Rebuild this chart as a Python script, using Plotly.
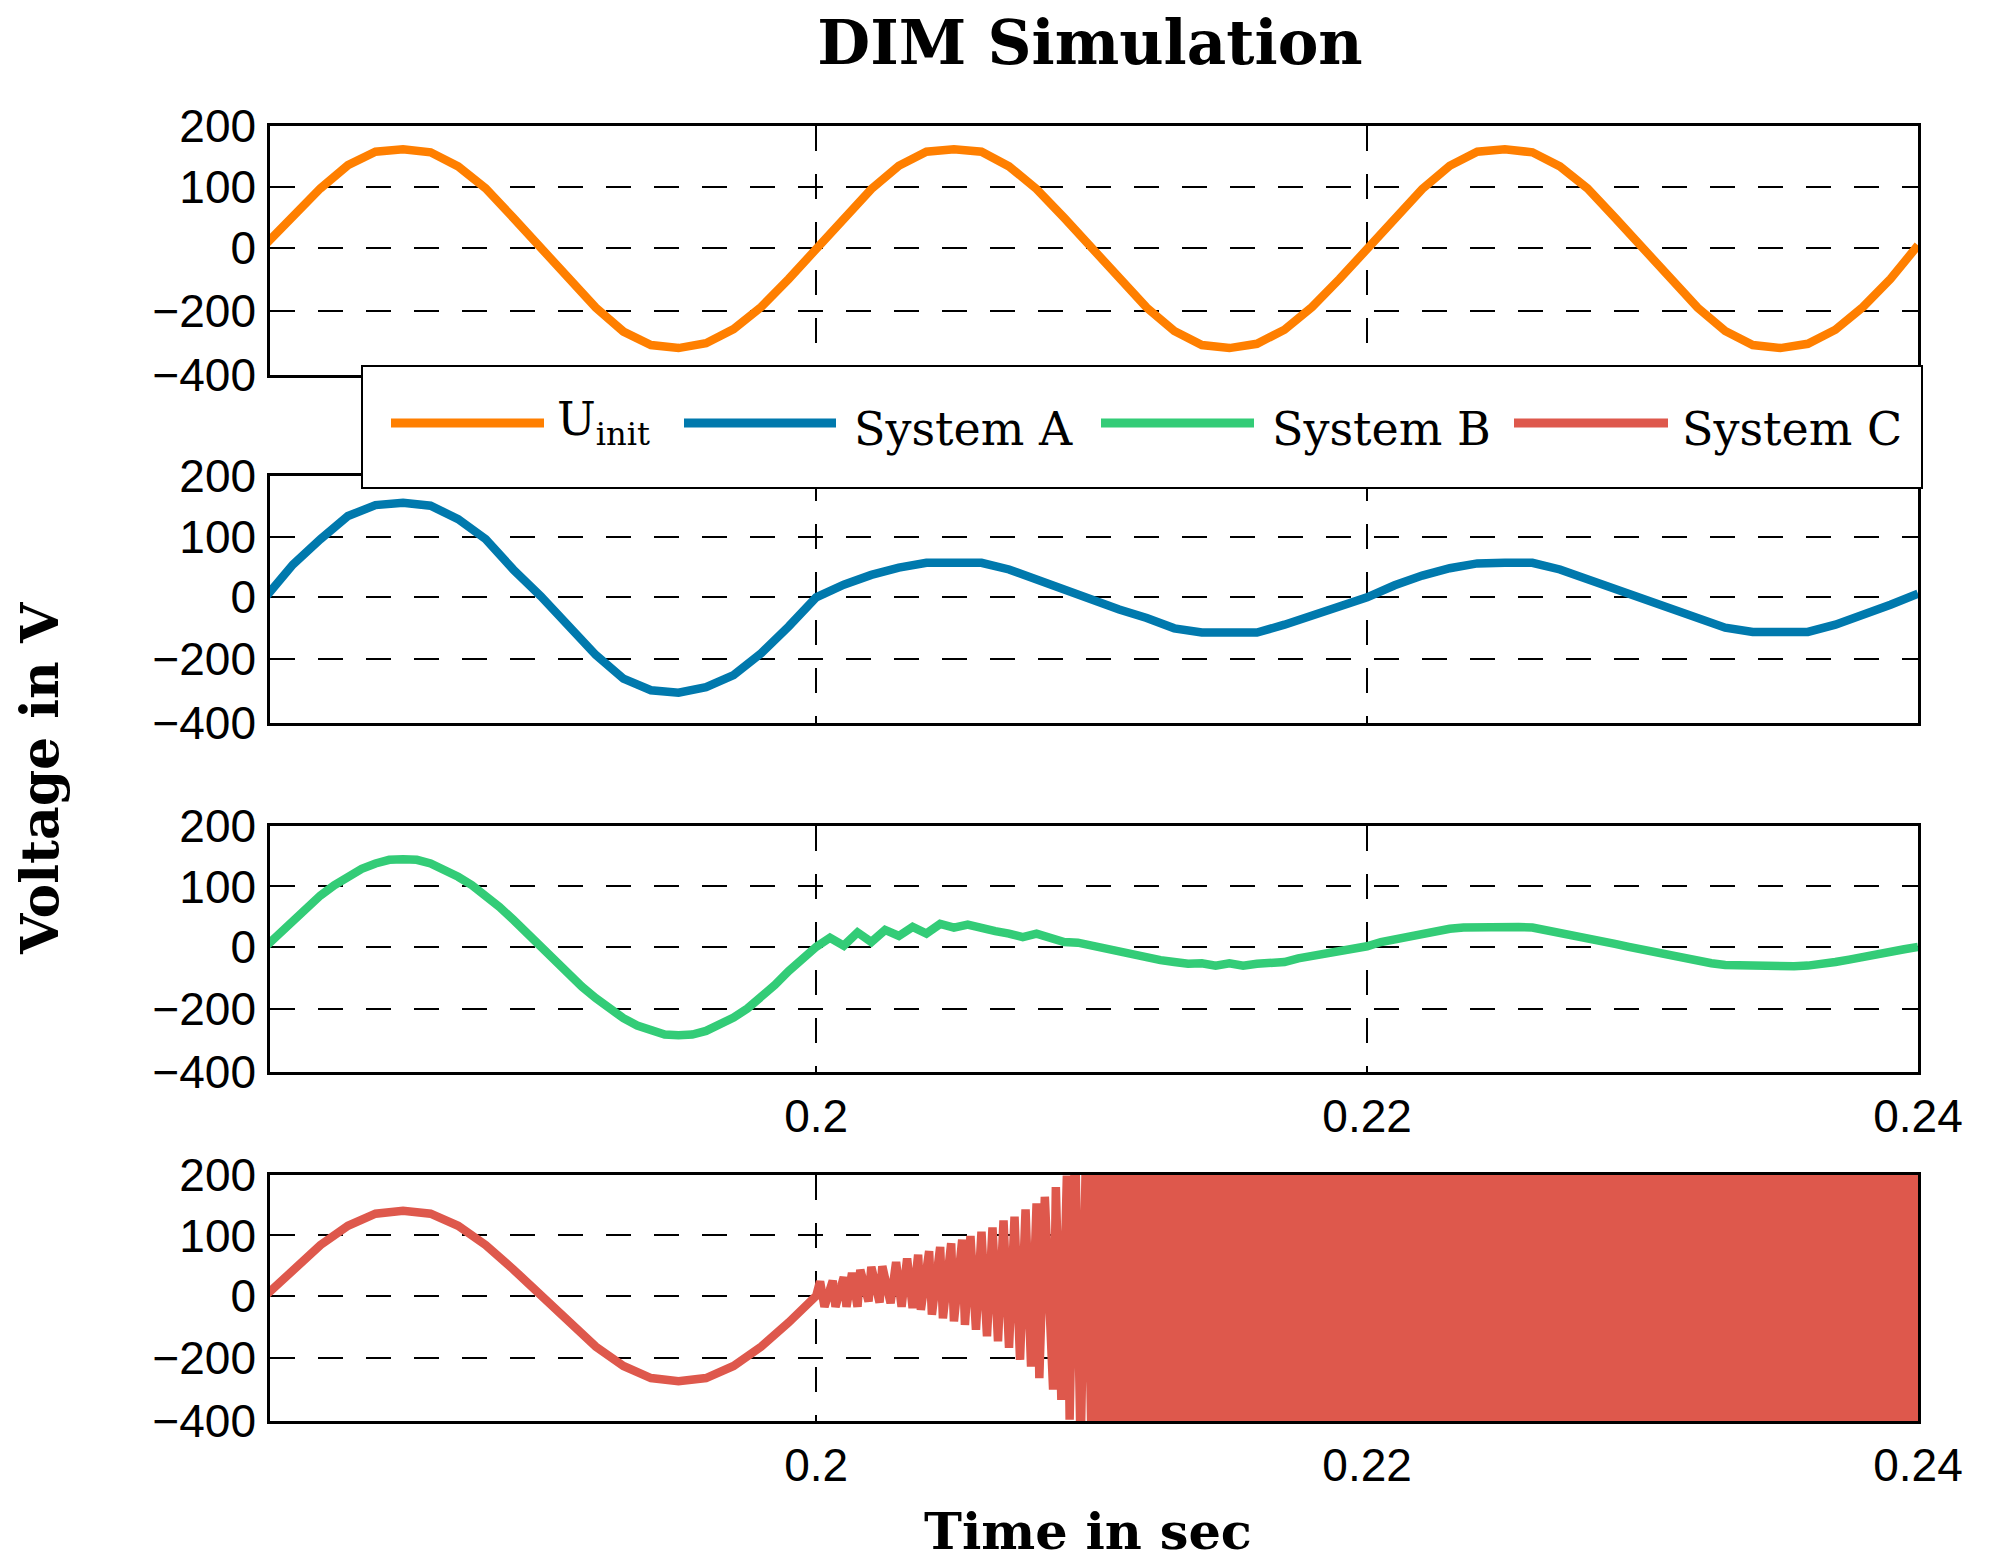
import plotly.graph_objects as go

# ---------------- data ----------------
# 1 ms sampling grid 0.180 ... 0.240 s
t_1ms = [round(0.180 + 0.001 * i, 4) for i in range(61)]
# 0.5 ms sampling grid 0.180 ... 0.240 s
t_05ms = [round(0.180 + 0.0005 * i, 5) for i in range(121)]

u_init = [6, 52, 98, 136, 158, 162, 157, 134, 98, 50, 2, -48, -97, -136, -158, -163, -155, -132, -96, -50,
          0, 51, 97, 135, 158, 162, 158, 134, 97, 50, 1, -49, -97, -135, -158, -163, -156, -133, -96, -50,
          0, 51, 97, 135, 158, 162, 157, 134, 98, 50, 1, -49, -97, -135, -158, -163, -156, -133, -96, -50,
          5]

system_a = [0, 54, 96, 134, 152, 156, 151, 129, 96, 46, 2, -48, -95, -134, -153, -157, -148, -128, -92, -48,
            0, 21, 37, 49, 57, 57, 57, 46, 29, 13, -4, -20, -34, -51, -58, -58, -58, -45, -31, -16,
            0, 20, 36, 48, 56, 57, 57, 46, 30, 14, -3, -20, -35, -50, -57, -58, -57, -45, -30, -12,
            6]

system_b = [0, 22, 45, 66, 85, 102, 117, 129, 138, 144, 145, 144, 138, 128, 116, 102, 85, 66, 45, 22,
            0, -22, -45, -66, -85, -103, -118, -130, -139, -145, -146, -145, -139, -129, -117, -102, -84, -63, -40, -20,
            0, 15, 2, 24, 8, 28, 18, 33, 22, 38, 32, 37, 30, 26, 22, 16, 22, 14, 8, 7,
            2, -4, -10, -15, -18, -22, -25, -28, -27, -31, -27, -31, -28, -26, -25, -19, -15, -11, -7, -4,
            1, 8, 13, 18, 23, 27, 30, 32, 33, 33, 33, 33, 32, 28, 24, 19, 14, 10, 5, 0,
            -5, -10, -15, -20, -24, -27, -30, -31, -32, -32, -32, -32, -31, -29, -25, -21, -16, -12, -8, -4,
            0]

# System C: smooth first cycle (1 ms grid) ...
c_t_smooth = t_1ms[:21]
c_v_smooth = [0, 44, 84, 116, 136, 141, 136, 116, 84, 44, 0, -44, -84, -116, -136, -141, -136, -116, -84, -44, 0]
# ... then growing oscillation: successive peak / trough samples
c_t_osc = [0.20014, 0.2003, 0.2006, 0.2007, 0.2010, 0.2011, 0.2013, 0.2015, 0.2016, 0.2019,
           0.2020, 0.2023, 0.2024, 0.2027, 0.2029, 0.2031, 0.2033, 0.2035, 0.2037, 0.2038,
           0.2041, 0.2042, 0.2045, 0.2046, 0.2049, 0.2050, 0.2053, 0.2054, 0.2056, 0.2058,
           0.2060, 0.2062, 0.2064, 0.2066, 0.2068, 0.2070, 0.2072, 0.2074, 0.2076, 0.2078,
           0.2080, 0.2081, 0.2083, 0.2086, 0.2087, 0.2089, 0.2091, 0.2092, 0.2094, 0.2096,
           0.2098, 0.2100]
c_v_osc = [24, -18, 25, -18, 31, -18, 38, -18, 43, -9,
           48, -11, 49, -12, 56, -18, 62, -20, 68, -23,
           74, -31, 81, -37, 87, -42, 93, -48, 99, -56,
           106, -67, 113, -75, 125, -86, 131, -106, 143, -117,
           153, -136, 164, -155, 180, -172, 199, -205, 260, -260,
           260, -260]
# ... and saturated region beyond the axis limits (envelope)
c_sat_t = [0.2099, 0.2400]
c_sat_hi = [240, 240]
c_sat_lo = [-240, -240]

# axis ticks
x_tickvals = [0.2, 0.22, 0.24]
x_ticktext = ["0.2", "0.22", "0.24"]
y_tickvals = [-207, -102, 0, 100, 200]
y_ticktext = ["\u2212400", "\u2212200", "0", "100", "200"]

series_names = ["U<sub>init</sub>", "System A", "System B", "System C"]

# ---------------- style ----------------
COL_U = "#FF7F00"
COL_A = "#0079AD"
COL_B = "#33CC77"
COL_C = "#DE584C"
colors = [COL_U, COL_A, COL_B, COL_C]
LW = 8.5

W, H = 1992, 1566
ML, MR, MT, MB = 270, 74, 126, 145
PW, PH = W - ML - MR, H - MT - MB


def px_to_paper_x(px):
    return (px - ML) / PW


def px_to_paper_y(py):
    return 1 - (py - MT) / PH


panels_px = [(126, 375), (476, 723), (826, 1072), (1175, 1421)]
domains = [[px_to_paper_y(b), px_to_paper_y(t)] for t, b in panels_px]

fig = go.Figure()

fig.add_trace(go.Scatter(x=t_1ms, y=u_init, mode="lines", name=series_names[0],
                         line=dict(color=COL_U, width=LW), xaxis="x", yaxis="y"))
fig.add_trace(go.Scatter(x=t_1ms, y=system_a, mode="lines", name=series_names[1],
                         line=dict(color=COL_A, width=LW), xaxis="x2", yaxis="y2"))
fig.add_trace(go.Scatter(x=t_05ms, y=system_b, mode="lines", name=series_names[2],
                         line=dict(color=COL_B, width=LW), xaxis="x3", yaxis="y3"))
fig.add_trace(go.Scatter(x=c_t_smooth + c_t_osc, y=c_v_smooth + c_v_osc, mode="lines", name=series_names[3],
                         line=dict(color=COL_C, width=LW), xaxis="x4", yaxis="y4"))
fig.add_trace(go.Scatter(x=c_sat_t + c_sat_t[::-1], y=c_sat_hi + c_sat_lo[::-1], mode="lines",
                         fill="toself", fillcolor=COL_C, line=dict(color=COL_C, width=0),
                         showlegend=False, hoverinfo="skip", xaxis="x4", yaxis="y4"))

tick_font = dict(family="Liberation Sans, Arial, sans-serif", size=46, color="black")
for i in range(4):
    sx = "" if i == 0 else str(i + 1)
    fig.layout["xaxis" + sx] = dict(
        domain=[0, 1], anchor="y" + sx, range=[0.18017, 0.24],
        tickvals=x_tickvals, ticktext=x_ticktext, showticklabels=(i >= 2),
        tickfont=tick_font, ticks="", ticklabelstandoff=2,
        showgrid=True, gridcolor="black", gridwidth=1.5, griddash="25px,23px",
        showline=True, linecolor="black", linewidth=2.5, mirror=True, zeroline=False,
    )
    fig.layout["yaxis" + sx] = dict(
        domain=domains[i], anchor="x" + sx, range=[-207, 200],
        tickvals=y_tickvals, ticktext=y_ticktext, tickfont=tick_font, ticks="",
        ticklabelstandoff=2,
        showgrid=True, gridcolor="black", gridwidth=2, griddash="25px,23px",
        showline=True, linecolor="black", linewidth=2.5, mirror=True, zeroline=False,
    )

serif = "DejaVu Serif, Liberation Serif, serif"

# ---------------- legend (drawn box, sample lines and labels) ----------------
legend_line_x = [(391, 544), (684, 836), (1101, 1254), (1514, 1668)]
legend_text_x = [555, 852, 1270, 1680]
legend_text_y = [423, 429, 429, 429]
legend_y = 423

shapes = [dict(type="rect", xref="paper", yref="paper",
               x0=px_to_paper_x(362), x1=px_to_paper_x(1922),
               y0=px_to_paper_y(488), y1=px_to_paper_y(366),
               fillcolor="white", line=dict(color="black", width=2), layer="above")]
for (x0, x1), col in zip(legend_line_x, colors):
    shapes.append(dict(type="line", xref="paper", yref="paper",
                       x0=px_to_paper_x(x0), x1=px_to_paper_x(x1),
                       y0=px_to_paper_y(legend_y), y1=px_to_paper_y(legend_y),
                       line=dict(color=col, width=9), layer="above"))

annotations = []
for name, xl, yc in zip(series_names, legend_text_x, legend_text_y):
    annotations.append(dict(text=name, xref="paper", yref="paper",
                            x=px_to_paper_x(xl), y=px_to_paper_y(yc),
                            xanchor="left", yanchor="middle", showarrow=False,
                            font=dict(family=serif, size=46, color="black")))

annotations += [
    dict(text="<b>Voltage in V</b>", textangle=-90, xref="paper", yref="paper",
         x=px_to_paper_x(40), y=px_to_paper_y(778), xanchor="center", yanchor="middle",
         showarrow=False, font=dict(family=serif, size=52, color="black")),
    dict(text="<b>Time in sec</b>", xref="paper", yref="paper",
         x=px_to_paper_x(1088), y=px_to_paper_y(1531), xanchor="center", yanchor="middle",
         showarrow=False, font=dict(family=serif, size=51, color="black")),
]

fig.update_layout(
    width=W, height=H,
    margin=dict(l=ML, r=MR, t=MT, b=MB),
    paper_bgcolor="white", plot_bgcolor="white",
    title=dict(text="<b>DIM Simulation</b>", font=dict(family=serif, size=61, color="black"),
               x=1090 / W, xanchor="center", xref="container",
               y=1 - 43 / H, yanchor="middle", yref="container"),
    showlegend=False,
    shapes=shapes,
    annotations=annotations,
)

fig.write_html("out.html", config={"displayModeBar": False},
               post_script="document.body.style.margin='0px';document.body.style.overflow='hidden';")
